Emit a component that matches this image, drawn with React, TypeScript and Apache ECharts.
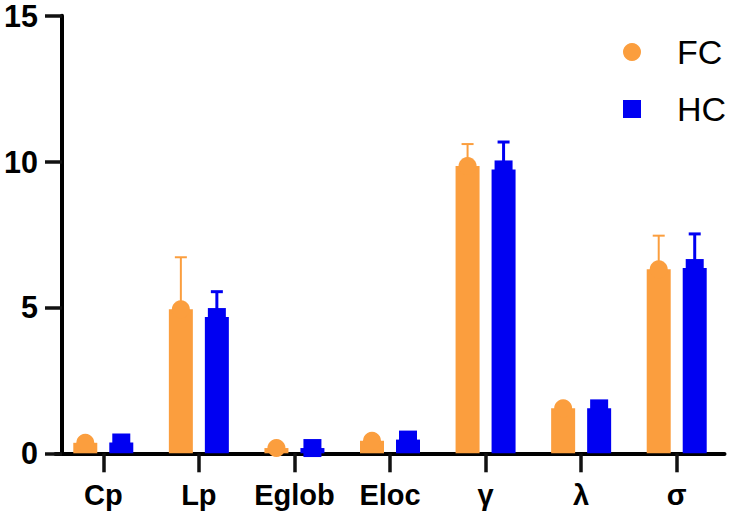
import React, { useEffect, useRef } from "react";
import * as echarts from "echarts";

const categories = ["Cp", "Lp", "Eglob", "Eloc", "γ", "λ", "σ"];
const fcMean = [0.36, 4.94, 0.18, 0.43, 9.85, 1.54, 6.31];
const fcSD = [0.03, 1.78, 0.01, 0.04, 0.75, 0.08, 1.15];
const hcMean = [0.37, 4.67, 0.18, 0.47, 9.73, 1.54, 6.35];
const hcSD = [0.03, 0.87, 0.01, 0.04, 0.94, 0.1, 1.17];
const seriesNames = ["FC", "HC"];
const yMin = 0;
const yMax = 15;
const yStep = 5;

const FC_COLOR = "#FB9E3E";
const HC_COLOR = "#0000F2";
const AXIS_COLOR = "#111111";
const FONT = "'Liberation Sans', Arial, Helvetica, sans-serif";
const Y_AXIS_SHIFT = 6.5;

function makeRender(offset: number, color: string, lineW: number, shape: string) {
  return (_params: any, api: any) => {
    const i = api.value(0);
    const m = api.value(1);
    const sd = api.value(2);
    const base = api.coord([i, m]);
    const top = api.coord([i, m + sd]);
    const x = base[0] + offset;
    const marker =
      shape === "circle"
        ? { type: "circle", shape: { cx: x, cy: base[1], r: 9 }, style: { fill: color } }
        : { type: "rect", shape: { x: x - 9, y: base[1] - 9, width: 18, height: 18 }, style: { fill: color } };
    return {
      type: "group",
      children: [
        { type: "line", shape: { x1: x, y1: base[1], x2: x, y2: top[1] }, style: { stroke: color, lineWidth: lineW } },
        { type: "line", shape: { x1: x - 6, y1: top[1], x2: x + 6, y2: top[1] }, style: { stroke: color, lineWidth: lineW } },
        marker,
      ],
    };
  };
}

export default function App() {
  const ref = useRef<HTMLDivElement>(null);
  useEffect(() => {
    if (!ref.current) return;
    const chart = echarts.init(ref.current, undefined, { renderer: "svg" });
    chart.setOption({
      animation: false,
      backgroundColor: "#ffffff",
      grid: { left: 55.5, right: 7.5, top: 15.7, bottom: 65.7, containLabel: false, outerBoundsMode: "none" },
      legend: {
        orient: "vertical",
        left: 618,
        top: 30,
        itemWidth: 18,
        itemHeight: 18,
        itemGap: 23,
        data: [
          { name: seriesNames[0], icon: "circle" },
          { name: seriesNames[1], icon: "rect" },
        ],
        textStyle: { fontSize: 34, color: "#000", fontFamily: FONT, padding: [0, 0, 0, 31] },
      },
      xAxis: {
        type: "category",
        data: categories,
        axisLine: { show: true, lineStyle: { color: "#000", width: 4 } },
        axisTick: { show: true, interval: 0, alignWithLabel: true, length: 19, lineStyle: { color: AXIS_COLOR, width: 3.5 } },
        axisLabel: { show: true, interval: 0, hideOverlap: false, fontSize: 29, fontWeight: "bold", color: "#000", fontFamily: FONT, margin: 27 },
      },
      yAxis: {
        type: "value",
        min: yMin,
        max: yMax,
        interval: yStep,
        offset: -Y_AXIS_SHIFT,
        axisLine: { show: true, lineStyle: { color: "#000", width: 4 } },
        axisTick: { show: true, length: 17, lineStyle: { color: AXIS_COLOR, width: 3.5 } },
        splitLine: { show: false },
        axisLabel: { fontSize: 30.5, fontWeight: "bold", color: "#000", fontFamily: FONT, margin: 24, padding: [5, 0, 0, 0] },
      },
      series: [
        { name: seriesNames[0], type: "bar", data: fcMean, barWidth: 24, barGap: "50%", itemStyle: { color: FC_COLOR }, z: 2 },
        { name: seriesNames[1], type: "bar", data: hcMean, barWidth: 24, barGap: "50%", itemStyle: { color: HC_COLOR }, z: 2 },
        {
          name: "FC-err",
          type: "custom",
          renderItem: makeRender(-18, FC_COLOR, 2, "circle"),
          data: categories.map((_, i) => [i, fcMean[i], fcSD[i]]),
          encode: { x: 0, y: 1 },
          clip: false,
          z: 3,
        },
        {
          name: "HC-err",
          type: "custom",
          renderItem: makeRender(18, HC_COLOR, 3, "rect"),
          data: categories.map((_, i) => [i, hcMean[i], hcSD[i]]),
          encode: { x: 0, y: 1 },
          clip: false,
          z: 3,
        },
      ],
    });
    return () => chart.dispose();
  }, []);
  return <div ref={ref} style={{ position: "fixed", left: 0, top: 0, width: 732, height: 519 }} />;
}
